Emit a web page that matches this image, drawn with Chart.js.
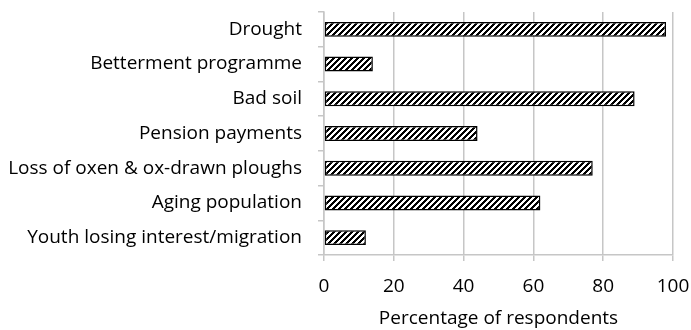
<!DOCTYPE html>
<html>
<head>
<meta charset="utf-8">
<script src="https://cdn.jsdelivr.net/npm/chart.js@4"></script>
<style>
  html, body { margin: 0; padding: 0; background: #fff; overflow: hidden; }
  #wrap { width: 691px; height: 330px; }
</style>
</head>
<body>
<div id="wrap"><canvas id="chart" width="691" height="330"></canvas></div>
<script>
// Reasons for abandoning cultivation
const categories = [
  "Drought",
  "Betterment programme",
  "Bad soil",
  "Pension payments",
  "Loss of oxen & ox-drawn ploughs",
  "Aging population",
  "Youth losing interest/migration"
];
const percentages = [98, 14, 89, 44, 77, 62, 12];
const xTicks = [0, 20, 40, 60, 80, 100];

// diagonal hatch fill
function hatch() {
  const size = 6;
  const c = document.createElement("canvas");
  c.width = size; c.height = size;
  const g = c.getContext("2d");
  const img = g.createImageData(size, size);
  for (let y = 0; y < size; y++) {
    for (let x = 0; x < size; x++) {
      const black = ((x + y) % size) < 3;
      const v = black ? 0 : 255;
      const i = (y * size + x) * 4;
      img.data[i] = v; img.data[i + 1] = v; img.data[i + 2] = v; img.data[i + 3] = 255;
    }
  }
  g.putImageData(img, 0, 0);
  return document.getElementById("chart").getContext("2d").createPattern(c, "repeat");
}

const font = { family: "'Open Sans', sans-serif", size: 19 };

new Chart(document.getElementById("chart"), {
  type: "bar",
  data: {
    labels: categories,
    datasets: [{
      data: percentages,
      backgroundColor: hatch(),
      borderColor: "#000",
      borderWidth: 1.5,
      borderSkipped: false,
      barPercentage: 0.43,
      categoryPercentage: 1
    }]
  },
  options: {
    indexAxis: "y",
    responsive: false,
    animation: false,
    layout: { padding: { top: 12, right: 18, bottom: 0, left: 0 } },
    plugins: { legend: { display: false }, tooltip: { enabled: false } },
    scales: {
      x: {
        min: 0,
        max: 100,
        afterBuildTicks: s => { s.ticks = xTicks.map(v => ({ value: v })); },
        grid: { color: "#c6c6c6", lineWidth: 1.5, tickLength: 6 },
        border: { color: "#c6c6c6", width: 1.5 },
        ticks: { color: "#000", font: font, padding: 14, maxRotation: 0 },
        title: {
          display: true,
          text: "Percentage of respondents",
          color: "#000",
          font: font,
          padding: { top: 0, bottom: 0 }
        },
        afterFit: s => { s.height = 75; s.paddingLeft = 0; s.paddingRight = 0; }
      },
      y: {
        grid: { offset: true, drawOnChartArea: false, color: "#c6c6c6", lineWidth: 1.5, tickLength: 6 },
        border: { color: "#c6c6c6", width: 1.5 },
        ticks: { color: "#000", font: font, padding: 16 },
        afterFit: s => { s.width = 324; s.paddingTop = 0; s.paddingBottom = 0; }
      }
    }
  }
});
</script>
</body>
</html>
